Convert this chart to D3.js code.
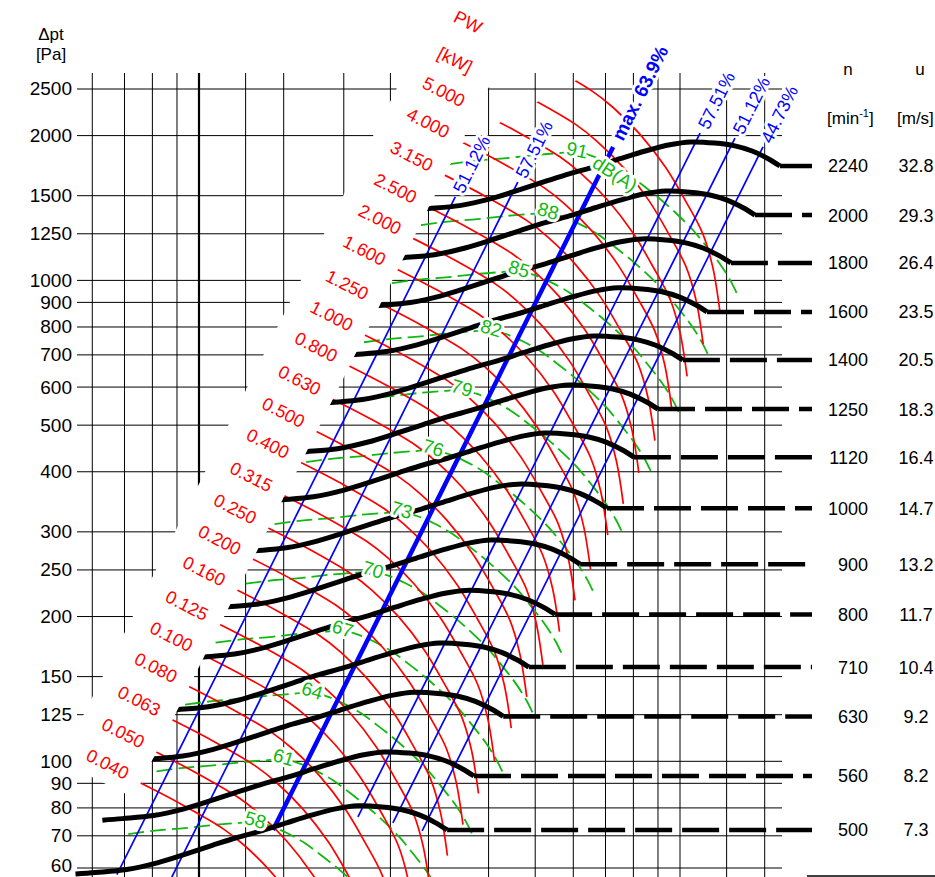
<!DOCTYPE html>
<html>
<head>
<meta charset="utf-8">
<script src="https://cdn.jsdelivr.net/npm/d3@7"></script>
<style>
  body { margin: 0; background: #fff; }
  svg { display: block; font-family: "Liberation Sans", Arial, sans-serif; }
</style>
</head>
<body>
<svg id="chart" width="935" height="877"></svg>
<script>
// grid (volume flow has no printed labels on this crop)
const flowGrid = [6, 7, 8, 9, 10, 12.5, 15, 20, 25, 30, 40, 50, 60, 70, 80, 90, 100, 125, 150];
const pressureTicks = [60, 70, 80, 90, 100, 125, 150, 200, 250, 300, 400, 500, 600, 700, 800, 900, 1000, 1250, 1500, 2000, 2500];

// speed curves: n [min-1], u [m/s], end point of each curve
const speeds = [2240, 2000, 1800, 1600, 1400, 1250, 1120, 1000, 900, 800, 710, 630, 560, 500];
const tipSpeeds = ["32.8", "29.3", "26.4", "23.5", "20.5", "18.3", "16.4", "14.7", "13.2", "11.7", "10.4", "9.2", "8.2", "7.3"];
const kneeFlow = [161.4, 143.2, 127.6, 113.8, 101.4, 90.0, 80.2, 70.5, 62.0, 55.0, 48.5, 42.9, 37.3, 32.8];
const kneePressure = [1729, 1367, 1087, 860, 683, 540, 429, 336, 257, 202, 157, 124, 93.2, 72.0];
// shape of the n = 1000 curve
const curveFlow = [11.9, 13.1, 15.2, 17.6, 20.3, 22.9, 25.8, 29.1, 32.8, 37.0, 41.6, 46.0, 51.6, 56.8, 61.7, 66.6, 70.5];
const curvePressure = [272, 274, 278, 287, 300, 312, 324, 335, 348, 361, 372, 377, 375, 370, 361, 348, 336];

// shaft power lines PW [kW]
const powers = [0.040, 0.050, 0.063, 0.080, 0.100, 0.125, 0.160, 0.200, 0.250, 0.315, 0.400, 0.500,
                0.630, 0.800, 1.000, 1.250, 1.600, 2.000, 2.500, 3.150, 4.000, 5.000, 6.300, 8.000];
const powerLabels = ["0.040", "0.050", "0.063", "0.080", "0.100", "0.125", "0.160", "0.200", "0.250", "0.315", "0.400",
                     "0.500", "0.630", "0.800", "1.000", "1.250", "1.600", "2.000", "2.500", "3.150", "4.000", "5.000"];
// shape of the PW = 1.000 line
const powerFlow = [21.9, 26.8, 32.9, 36.3, 41.3, 46.7, 51.4, 55.8, 58.5, 60.5];
const powerPressure = [774, 697, 618, 572, 503, 429, 365, 312, 266, 216];

// sound level lines dB(A): point under each label
const noiseLevels = [91, 88, 85, 82, 79, 76, 73, 70, 67, 64, 61, 58];
const noiseFlow = [61.1, 53.2, 46.3, 40.5, 35.2, 30.7, 26.4, 23.0, 19.9, 17.2, 15.0, 13.1];
const noisePressure = [1849, 1381, 1046, 788, 592, 444, 330, 248, 187, 139, 101, 74.8];
// shape of the 76 dB(A) line
const noiseShapeFlow = [16.7, 19.0, 21.9, 25.3, 28.5, 30.7, 32.9, 35.7, 38.8, 42.0, 45.6, 49.5, 53.4, 57.1, 60.8, 64.1, 66.6];
const noiseShapePressure = [419, 426, 431, 438, 442, 444, 436, 421, 402, 379, 355, 330, 306, 282, 260, 239, 221];

// efficiency lines
const effLabels = ["51.12%", "57.51%", "max. 63.9%", "57.51%", "51.12%", "44.73%"];
const effStartFlow = [6.75, 8.70, 14.25, 21.4, 25.3, 29.1];
const effStartPressure = [58.1, 56.4, 72.0, 76.6, 74.5, 71.7];
const effEndFlow = [34.1, 46.0, 72.6, 110.1, 130.1, 148.8];
const effEndPressure = [1491, 1601, 1894, 2025, 1977, 1894];

// white label band (V / sqrt(p) of its edges) and its lower end
const bandEdge = [0.5148, 0.7977];
const bandBottom = [100, 84];
// upper limit of the power lines
const powerLimitFlow = [35.7, 62.6];
const powerLimitPressure = [1940, 2648];

const svg = d3.select("#chart");
const x = d3.scaleLog().domain([10, 100]).range([199, 680]);
const y = d3.scaleLog().domain([60, 2500]).range([868, 89]);
const line = d3.line().x(d => x(d[0])).y(d => y(d[1])).curve(d3.curveCatmullRom.alpha(0.5));

const RED = "#ff0000", BLUE = "#0000ff", GREEN = "#10b810";

// text with a white knock-out behind it
function haloText(g, transform, str, color, size, weight, anchor) {
  [true, false].forEach(back => {
    const t = g.append("text")
      .attr("transform", transform)
      .attr("dy", "0.35em")
      .attr("font-size", size)
      .attr("text-anchor", anchor)
      .attr("font-weight", weight)
      .text(str);
    if (back) t.attr("fill", "#fff").attr("stroke", "#fff").attr("stroke-width", 6).attr("stroke-linejoin", "round");
    else t.attr("fill", color);
  });
}

// band polygon
const pTop = y.invert(-20);
const band = [
  [x(bandEdge[0] * Math.sqrt(pTop)), y(pTop)],
  [x(bandEdge[0] * Math.sqrt(bandBottom[0])), y(bandBottom[0])],
  [x(bandEdge[1] * Math.sqrt(bandBottom[1])), y(bandBottom[1])],
  [x(bandEdge[1] * Math.sqrt(pTop)), y(pTop)]
];
const defs = svg.append("defs");
defs.append("clipPath").attr("id", "outside")
  .append("path")
    .attr("clip-rule", "evenodd")
    .attr("d", "M-10,-10H945V890H-10Z M" + band.map(p => p.join(",")).join("L") + "Z");

// power line limit at the top
const a = [x(powerLimitFlow[0]), y(powerLimitPressure[0])];
const b = [x(powerLimitFlow[1]), y(powerLimitPressure[1])];
const m = (b[1] - a[1]) / (b[0] - a[0]);
defs.append("clipPath").attr("id", "powerTop")
  .append("polygon")
    .attr("points", [[0, a[1] - m * a[0]], [945, a[1] + m * (945 - a[0])], [945, 890], [0, 890]].map(p => p.join(",")).join(" "));

const plot = svg.append("g").attr("clip-path", "url(#outside)");

// grid
const grid = plot.append("g").attr("stroke", "#000").attr("fill", "none");
grid.selectAll("line.h").data(pressureTicks).enter().append("line")
    .attr("x1", 77).attr("x2", 782)
    .attr("y1", d => y(d)).attr("y2", d => y(d))
    .attr("stroke-width", 1);
grid.selectAll("line.v").data(flowGrid).enter().append("line")
    .attr("x1", d => x(d)).attr("x2", d => x(d))
    .attr("y1", 73).attr("y2", 890)
    .attr("stroke-width", d => d === 10 ? 2.2 : 1);

// y axis labels
svg.append("g").attr("font-size", 19).attr("text-anchor", "end")
  .selectAll("text").data(pressureTicks).enter().append("text")
    .attr("x", 72).attr("y", d => y(d) - (d === 60 ? 2 : 0)).attr("dy", "0.34em")
    .text(d => d);
svg.append("text").attr("x", 51).attr("y", 40).attr("font-size", 17).attr("text-anchor", "middle").text("\u0394pt");
svg.append("text").attr("x", 51).attr("y", 60).attr("font-size", 17).attr("text-anchor", "middle").text("[Pa]");

// sound level lines
const noise = plot.append("g");
noiseLevels.forEach((lv, i) => {
  const fs = noiseFlow[i] / noiseShapeFlow[5];
  const ps = noisePressure[i] / noiseShapePressure[5];
  const pts = noiseShapeFlow.map((v, j) => [v * fs, noiseShapePressure[j] * ps]);
  noise.append("path").attr("d", line(pts))
    .attr("fill", "none").attr("stroke", GREEN).attr("stroke-width", 1.8)
    .attr("stroke-dasharray", "16,6");
});

// power lines
const power = plot.append("g").attr("clip-path", "url(#powerTop)");
powers.forEach(pw => {
  const s = Math.cbrt(pw);
  const pts = powerFlow.map((v, j) => [v * s, powerPressure[j] * s * s]);
  power.append("path").attr("d", line(pts))
    .attr("fill", "none").attr("stroke", RED).attr("stroke-width", 1.7);
});

// efficiency lines
const eff = plot.append("g");
effLabels.forEach((lab, i) => {
  eff.append("line")
    .attr("x1", x(effStartFlow[i])).attr("y1", y(effStartPressure[i]))
    .attr("x2", x(effEndFlow[i])).attr("y2", y(effEndPressure[i]))
    .attr("stroke", BLUE).attr("stroke-width", lab.startsWith("max") ? 4.5 : 1.7);
});

// speed curves
const speed = plot.append("g");
speeds.forEach((n, i) => {
  const last = curveFlow.length - 1;
  const fs = kneeFlow[i] / curveFlow[last];
  const ps = kneePressure[i] / curvePressure[last];
  const pts = curveFlow.map((v, j) => [v * fs, curvePressure[j] * ps]);
  speed.append("path").attr("d", line(pts))
    .attr("fill", "none").attr("stroke", "#000").attr("stroke-width", 5);
  speed.append("line")
    .attr("x1", x(kneeFlow[i])).attr("x2", 812)
    .attr("y1", y(kneePressure[i])).attr("y2", y(kneePressure[i]))
    .attr("stroke", "#000").attr("stroke-width", 4.5)
    .attr("stroke-dasharray", "37,10");
});

// sound level labels
const noiseText = svg.append("g");
noiseLevels.forEach((lv, i) => {
  const px = x(noiseFlow[i]), py = y(noisePressure[i]);
  haloText(noiseText, `translate(${px},${py - 2}) rotate(${i === 0 ? 12 : 17})`, lv, GREEN, 19, null, "middle");
  if (i === 0) {
    haloText(noiseText, `translate(${px + 38},${py + 22}) rotate(33)`, "dB(A)", GREEN, 19, null, "middle");
  }
});

// efficiency labels
const effText = svg.append("g");
effLabels.forEach((lab, i) => {
  const x1 = x(effStartFlow[i]), y1 = y(effStartPressure[i]);
  const x2 = x(effEndFlow[i]), y2 = y(effEndPressure[i]);
  const ang = Math.atan2(y2 - y1, x2 - x1);
  const bold = lab.startsWith("max");
  const gap = bold ? 9 : 6;
  haloText(effText,
    `translate(${x2 + gap * Math.cos(ang)},${y2 + gap * Math.sin(ang)}) rotate(${ang * 180 / Math.PI})`,
    lab, BLUE, bold ? 19 : 18, bold ? "bold" : null, "start");
});

// power labels in the band
const powerText = svg.append("g").attr("fill", RED).attr("font-size", 18).attr("text-anchor", "middle");
powerLabels.forEach((lab, i) => {
  const s = Math.cbrt(powers[i]);
  const px = x(powerFlow[0] * s) - 31, py = y(powerPressure[0] * s * s) - 18;
  powerText.append("text")
    .attr("transform", `translate(${px},${py}) rotate(27)`)
    .attr("dy", "0.35em")
    .text(lab);
});
powerText.append("text").attr("transform", "translate(468,22) rotate(27)").attr("dy", "0.35em").text("PW");
powerText.append("text").attr("transform", "translate(455,60) rotate(27)").attr("dy", "0.35em").text("[kW]");

// speed table on the right
const table = svg.append("g").attr("font-size", 18).attr("fill", "#000");
table.selectAll("text.n").data(speeds).enter().append("text")
    .attr("x", 868).attr("y", (d, i) => y(kneePressure[i])).attr("dy", "0.36em")
    .attr("text-anchor", "end").text(d => d);
table.selectAll("text.u").data(tipSpeeds).enter().append("text")
    .attr("x", 916).attr("y", (d, i) => y(kneePressure[i])).attr("dy", "0.36em")
    .attr("text-anchor", "middle").text(d => d);
table.append("text").attr("x", 848).attr("y", 75).attr("font-size", 17).attr("text-anchor", "middle").text("n");
table.append("text").attr("x", 920).attr("y", 75).attr("font-size", 17).attr("text-anchor", "middle").text("u");
const unitN = table.append("text").attr("x", 827).attr("y", 124).attr("font-size", 17);
unitN.append("tspan").text("[min");
unitN.append("tspan").attr("font-size", 11).attr("dy", -7).text("-1");
unitN.append("tspan").attr("dy", 7).text("]");
table.append("text").attr("x", 897).attr("y", 124).attr("font-size", 17).text("[m/s]");
table.append("line").attr("x1", 807).attr("x2", 935).attr("y1", 876).attr("y2", 876)
    .attr("stroke", "#000").attr("stroke-width", 1.5);
</script>
</body>
</html>
